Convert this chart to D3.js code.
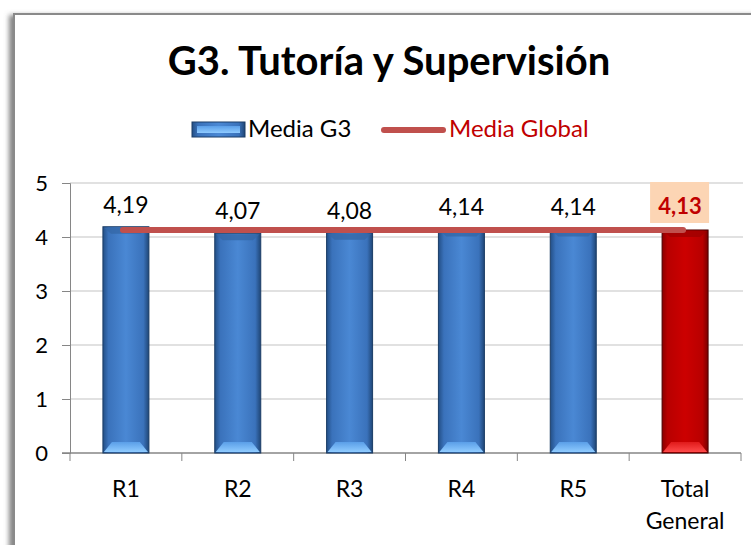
<!DOCTYPE html>
<html><head><meta charset="utf-8">
<script src="https://cdn.jsdelivr.net/npm/d3@7"></script>
<style>body{margin:0;background:#fff}svg{display:block}</style>
</head><body>
<svg id="c" width="751" height="545"></svg>
<script>
const categories = ["R1","R2","R3","R4","R5","Total General"];
const mediaG3 = [4.19,4.07,4.08,4.14,4.14,4.13];
const mediaGlobal = [4.13,4.13,4.13,4.13,4.13,4.13];
const valueLabels = ["4,19","4,07","4,08","4,14","4,14","4,13"];
const yTicks = [0,1,2,3,4,5];
const title = "G3. Tutoría y Supervisión";
const legendLabels = ["Media G3","Media Global"];

const FONT = "Lato, 'Open Sans', sans-serif";
const svg = d3.select("#c");
const defs = svg.append("defs");
function grad(id, stops, vertical){
  const g = defs.append("linearGradient").attr("id",id).attr("x1","0").attr("x2",vertical?"0":"1").attr("y1","0").attr("y2",vertical?"1":"0");
  stops.forEach(s=>g.append("stop").attr("offset",s[0]).attr("stop-color",s[1]));
}
grad("gBlue",[[0,"#234f86"],[0.12,"#3a72bb"],[0.5,"#4a88d4"],[0.88,"#3a72bb"],[1,"#1f4676"]]);
grad("gRed",[[0,"#8a0000"],[0.12,"#b80000"],[0.5,"#cc0000"],[0.88,"#b80000"],[1,"#7a0000"]]);
grad("bBlue",[[0,"#5a9ee8"],[1,"#8fcbff"]],true);
grad("bRed",[[0,"#e01a1a"],[1,"#ff4a4a"]],true);
const sh = defs.append("filter").attr("id","sh").attr("x","-5%").attr("y","-5%").attr("width","110%").attr("height","110%");
sh.append("feDropShadow").attr("dx",-4).attr("dy",2).attr("stdDeviation",2.5).attr("flood-color","#666").attr("flood-opacity",0.8);

// frame
svg.append("rect").attr("x",14).attr("y",14).attr("width",760).attr("height",560)
  .attr("fill","#fff").attr("stroke","#8a8a8a").attr("stroke-width",2).attr("filter","url(#sh)");

// title
svg.append("text").attr("x",389).attr("y",75).attr("text-anchor","middle")
  .attr("font-family",FONT).attr("font-weight","bold").attr("font-size",40).attr("fill","#000").text(title);

// scales
const x = d3.scaleBand().domain(categories).range([70,741]).paddingInner(0).paddingOuter(0);
const y = d3.scaleLinear().domain([0,5]).range([453,183]);

// gridlines
svg.append("g").selectAll("line").data(yTicks.filter(d=>d>0)).join("line")
  .attr("x1",70).attr("x2",743).attr("y1",d=>y(d)).attr("y2",d=>y(d))
  .attr("stroke","#c4c4c4").attr("stroke-width",1.2);

// y axis
const yAxis = svg.append("g").attr("transform","translate(70,0)")
  .call(d3.axisLeft(y).tickValues(yTicks).tickSize(8).tickPadding(14).tickFormat(d=>String(d)));
yAxis.select(".domain").attr("stroke","#868686");
yAxis.selectAll(".tick line").attr("stroke","#868686");
yAxis.selectAll("text").attr("font-family",FONT).attr("font-size",22).attr("fill","#000");

// x axis
const xAxisG = svg.append("g").attr("transform","translate(0,453)");
xAxisG.append("line").attr("x1",62).attr("x2",741).attr("y1",0).attr("y2",0).attr("stroke","#868686").attr("stroke-width",1.5);
const bounds = categories.map(c=>x(c)).concat([x.range()[1]]);
xAxisG.selectAll("line.t").data(bounds).join("line").attr("class","t")
  .attr("x1",d=>d).attr("x2",d=>d).attr("y1",0).attr("y2",8).attr("stroke","#868686");
xAxisG.selectAll("text").data(categories).join("text")
  .attr("text-anchor","middle")
  .attr("font-family",FONT).attr("font-size",23).attr("fill","#000")
  .each(function(d){
    const words = d.split(" ");
    const t = d3.select(this);
    words.forEach((w,i)=>t.append("tspan").attr("x",x(d)+x.bandwidth()/2).attr("y",i===0?44:76).text(w));
  });

// bars
const bw = 46;
const bars = svg.append("g").selectAll("g").data(categories).join("g");
bars.each(function(c,i){
  const g = d3.select(this);
  const cx = x(c)+x.bandwidth()/2;
  const x0 = cx-bw/2, top = y(mediaG3[i]), bot = y(0);
  const isTot = i===categories.length-1;
  g.append("rect").attr("x",x0).attr("y",top).attr("width",bw).attr("height",bot-top)
    .attr("fill",isTot?"url(#gRed)":"url(#gBlue)").attr("stroke",isTot?"#4a0000":"#1b3d66").attr("stroke-width",1);
  // bottom bevel
  g.append("path").attr("d",`M${x0+1},${bot-1} L${x0+9},${bot-11} L${x0+bw-9},${bot-11} L${x0+bw-1},${bot-1} Z`)
    .attr("fill",isTot?"url(#bRed)":"url(#bBlue)");
  // top bevel
  g.append("path").attr("d",`M${x0+1},${top+1} L${x0+8},${top+7} L${x0+bw-8},${top+7} L${x0+bw-1},${top+1} Z`)
    .attr("fill",isTot?"#a00000":"#3568a8").attr("opacity",0.8);
});

// global line
const line = d3.line().x((d,i)=>x(categories[i])+x.bandwidth()/2 + (i===0?-3:(i===categories.length-1?-2:0))).y(d=>y(d));
svg.append("path").datum(mediaGlobal).attr("d",line).attr("fill","none")
  .attr("stroke","#c0504d").attr("stroke-width",6).attr("stroke-linecap","round");

// value labels
categories.forEach((c,i)=>{
  const cx = x(c)+x.bandwidth()/2;
  const isTot = i===categories.length-1;
  if(isTot){
    svg.append("rect").attr("x",cx-35).attr("y",182).attr("width",59).attr("height",41).attr("fill","#fcd5b4");
    svg.append("text").attr("x",cx-5).attr("y",214).attr("text-anchor","middle")
      .attr("font-family",FONT).attr("font-weight","bold").attr("font-size",22).attr("fill","#c00000").text(valueLabels[i]);
  } else {
    svg.append("text").attr("x",cx).attr("y",y(mediaG3[i])-14).attr("text-anchor","middle")
      .attr("font-family",FONT).attr("font-size",23).attr("fill","#000").text(valueLabels[i]);
  }
});

// legend
const lg = svg.append("g");
lg.append("rect").attr("x",192).attr("y",122).attr("width",53).attr("height",15).attr("fill","url(#gBlue)").attr("stroke","#1b3d66");
lg.append("rect").attr("x",197).attr("y",126).attr("width",43).attr("height",7).attr("fill","url(#bBlue)");
lg.append("text").attr("x",248).attr("y",137).attr("font-family",FONT).attr("font-size",24).attr("fill","#000").text(legendLabels[0]);
lg.append("line").attr("x1",384).attr("x2",443).attr("y1",130).attr("y2",130).attr("stroke","#c0504d").attr("stroke-width",6).attr("stroke-linecap","round");
lg.append("text").attr("x",449).attr("y",137).attr("font-family",FONT).attr("font-size",24).attr("fill","#c00000").text(legendLabels[1]);
</script>
</body></html>
